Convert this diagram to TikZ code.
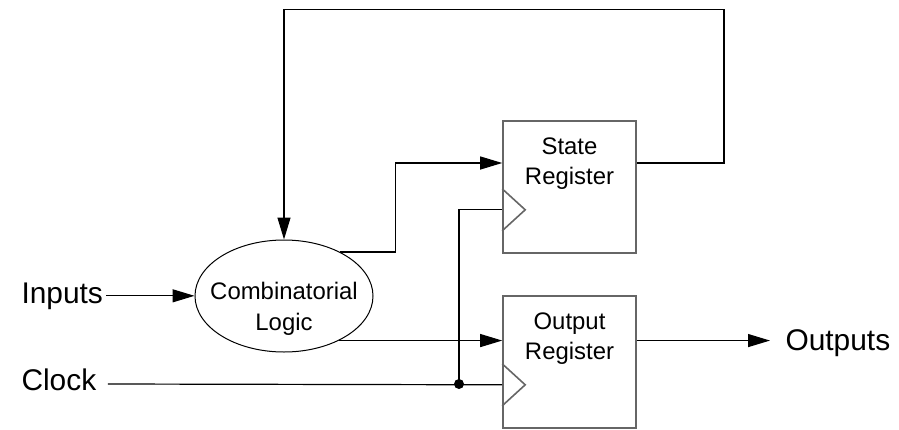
\documentclass[tikz,border=0pt]{standalone}
\usepackage{fontspec}
\setmainfont{Liberation Sans}
\usetikzlibrary{arrows.meta, positioning, calc, shapes.geometric}

\begin{document}
\begin{tikzpicture}[x=1bp, y=1bp,
        wire/.style={line width=1.2bp, black},
        arr/.style={wire, -{Triangle[length=22bp, width=13bp]}},
        reg/.style={draw=black!60, line width=1.6bp, minimum width=133bp, minimum height=132bp, inner sep=0pt},
        regtext/.style={inner sep=0pt, align=center, font=\fontsize{24}{31}\selectfont},
        outer/.style={font=\fontsize{30}{36}\selectfont, anchor=base west}]
        \useasboundingbox (0,0) rectangle (899,429);
        \node[ellipse, draw, line width=1bp, minimum width=178bp, minimum height=112bp, inner sep=0pt] (comb) at (284,133) {};
        \node[regtext, anchor=north] (combtext) at ([yshift=14bp]comb.center) {Combinatorial\\Logic};
        \node[reg] (state) at (569.5,242) {};
        \node[reg] (outreg) at (569.5,67) {};
        \node[regtext, below=17bp of state.north, anchor=north] (statetext) {State\\Register};
        \node[regtext, below=17bp of outreg.north, anchor=north] (outtext) {Output\\Register};
        \node[outer] (inputs) at (18,126) {Inputs};
        \node[outer] (clock) at (18,39) {Clock};
        \node[outer] (outputs) at (782,79) {Outputs};
        \coordinate (stin) at ([yshift=24bp]state.west);
        \coordinate (sclk) at ([yshift=44bp]state.south west);
        \coordinate (oclk) at ([yshift=44bp]outreg.south west);
        \coordinate (clkjoin) at (459,45);
        \coordinate (fbtop) at (724,419.5);
        % clock inputs
        \foreach \r in {state, outreg}
            \draw[draw=black!60, line width=1.6bp] ($(\r.south west)+(0,65)$) -- ($(\r.south west)+(23,44)$) -- ($(\r.south west)+(0,23)$);
        % data paths
        \draw[arr] (inputs.east) -- (inputs.east -| comb.west);
        \draw[arr] (comb.38) -- ++(55,0) |- (stin);
        \draw[arr] (comb.-39) -- (comb.-39 -| outreg.west);
        \draw[arr, shorten >=12bp] (comb.-39 -| outreg.east) -- (comb.-39 -| outputs.west);
        \draw[arr] (stin -| state.east) -| (fbtop) -| (comb.north);
        % clock
        \draw[wire] ([xshift=8bp]clock.east |- clkjoin) -- (oclk);
        \draw[wire] (clkjoin) |- (sclk);
        \fill (clkjoin) circle (5bp);
    \end{tikzpicture}
\end{document}
